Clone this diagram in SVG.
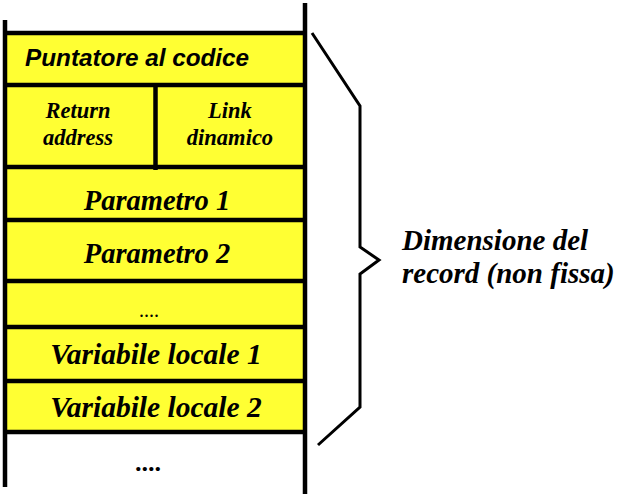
<svg xmlns="http://www.w3.org/2000/svg" width="621" height="494" viewBox="0 0 621 494">
<style>
.ln{stroke:#000;stroke-width:4.5;fill:none}
.cell{fill:#FFFF33}
.sans{font-family:"Liberation Sans",Arial,sans-serif;font-weight:bold;font-style:italic;fill:#000}
.serif{font-family:"Liberation Serif","Times New Roman",serif;font-weight:bold;font-style:italic;fill:#000}
</style>
<rect class="cell" x="5" y="33" width="300" height="399"/>
<g id="puntatore">
<text class="sans" x="25" y="66" font-size="24.3">Puntatore al codice</text>
</g>
<g id="return">
<text class="serif" x="78" y="118" font-size="22.5" text-anchor="middle">Return</text>
<text class="serif" x="78" y="145" font-size="22.5" text-anchor="middle">address</text>
</g>
<g id="link">
<text class="serif" x="230" y="118" font-size="22.5" text-anchor="middle">Link</text>
<text class="serif" x="230" y="145" font-size="22.5" text-anchor="middle">dinamico</text>
</g>
<g id="param1">
<text class="serif" x="157" y="210" font-size="28.5" text-anchor="middle">Parametro 1</text>
</g>
<g id="param2">
<text class="serif" x="157" y="263" font-size="28.5" text-anchor="middle">Parametro 2</text>
</g>
<g id="dots1">
<text x="149" y="317" font-size="20" text-anchor="middle" style="font-family:'Liberation Serif','Times New Roman',serif">....</text>
</g>
<g id="var1">
<text class="serif" x="156" y="364" font-size="29.5" text-anchor="middle">Variabile locale 1</text>
</g>
<g id="var2">
<text class="serif" x="156" y="417" font-size="29.5" text-anchor="middle">Variabile locale 2</text>
</g>
<g id="dots2">
<text class="serif" x="149" y="471" font-size="26" text-anchor="middle">....</text>
</g>
<g id="lines">
<line class="ln" x1="5" y1="20" x2="5" y2="487"/>
<line class="ln" x1="305" y1="3" x2="305" y2="494"/>
<line class="ln" x1="5" y1="33" x2="305" y2="33"/>
<line class="ln" x1="5" y1="85" x2="305" y2="85"/>
<line class="ln" x1="5" y1="167" x2="305" y2="167"/>
<line class="ln" x1="155.5" y1="85" x2="155.5" y2="170"/>
<line class="ln" x1="5" y1="220" x2="305" y2="220"/>
<line class="ln" x1="5" y1="281" x2="305" y2="281"/>
<line class="ln" x1="5" y1="327" x2="305" y2="327"/>
<line class="ln" x1="5" y1="381" x2="305" y2="381"/>
<line class="ln" x1="5" y1="432" x2="305" y2="432"/>
</g>
<g id="brace">
<polyline points="312,33 360,106 360,247 379,260 360,274 360,407 318,445" fill="none" stroke="#000" stroke-width="3"/>
</g>
<g id="label">
<text class="serif" x="402" y="250" font-size="29">Dimensione del</text>
<text class="serif" x="402" y="283" font-size="29">record (non fissa)</text>
</g>
</svg>
